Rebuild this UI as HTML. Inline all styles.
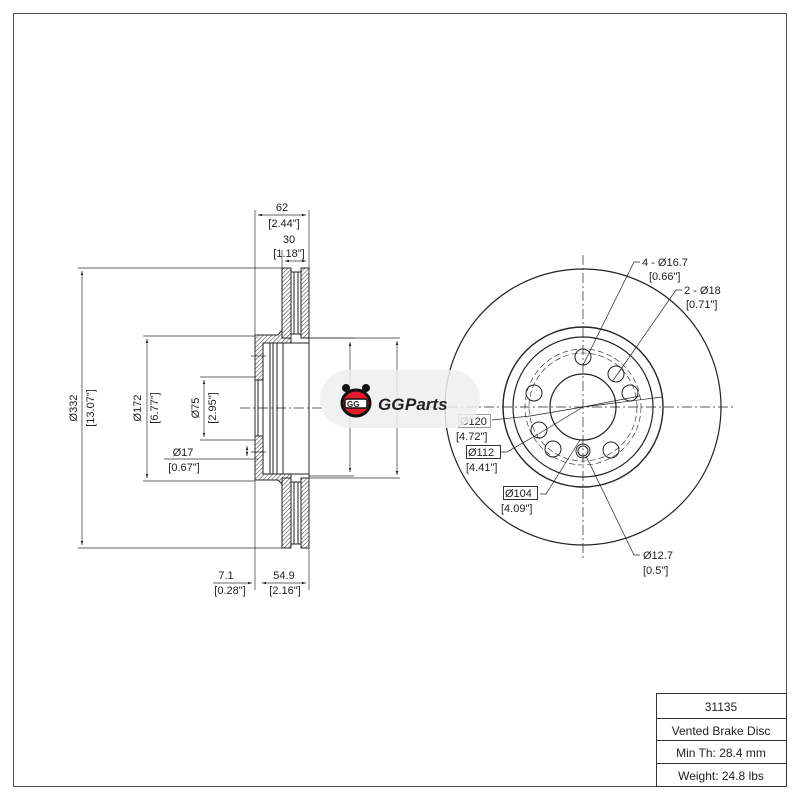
<!DOCTYPE html>
<html><head><meta charset="utf-8"><style>
html,body{margin:0;padding:0;background:#fff;width:800px;height:800px;overflow:hidden}
svg text{font-family:"Liberation Sans",sans-serif;fill:#222}
</style></head><body>
<svg width="800" height="800" viewBox="0 0 800 800" xmlns="http://www.w3.org/2000/svg">
<defs>
<pattern id="h" width="3" height="3" patternUnits="userSpaceOnUse" patternTransform="rotate(45)">
<rect width="3" height="3" fill="#fff"/><line x1="0" y1="0" x2="0" y2="3" stroke="#333" stroke-width="1"/>
</pattern>
<marker id="a" viewBox="0 0 10 10" refX="10" refY="5" markerWidth="6" markerHeight="6" orient="auto-start-reverse"><path d="M0,2 L10,5 L0,8z" fill="#222"/></marker>
</defs>
<rect x="13.5" y="13.5" width="773" height="773" fill="none" stroke="#555" stroke-width="1"/>

<!-- LEFT: section view -->
<g stroke="#222" stroke-width="1" fill="none">
<!-- plates -->
<rect x="282" y="268" width="9" height="70" fill="url(#h)"/>
<rect x="301" y="268" width="8" height="70" fill="url(#h)"/>
<rect x="282" y="478" width="9" height="70" fill="url(#h)"/>
<rect x="301" y="478" width="8" height="70" fill="url(#h)"/>
<line x1="291" y1="272" x2="301" y2="272"/><line x1="291" y1="334" x2="301" y2="334"/>
<line x1="291" y1="482" x2="301" y2="482"/><line x1="291" y1="544" x2="301" y2="544"/>
<line x1="294" y1="272" x2="294" y2="334"/><line x1="298" y1="272" x2="298" y2="334"/>
<line x1="294" y1="482" x2="294" y2="544"/><line x1="298" y1="482" x2="298" y2="544"/>
<!-- hat -->
<path d="M255,335 L278,335 L282,330 L282,338 L291,338 L291,343 L263,343 L263,380 L255,380 Z" fill="url(#h)"/>
<path d="M255,436 L263,436 L263,474 L291,474 L291,478 L282,478 L282,484 L278,480 L255,480 Z" fill="url(#h)"/>
<line x1="255" y1="380" x2="255" y2="436"/>
<line x1="258" y1="380" x2="258" y2="436"/>
<line x1="263" y1="343" x2="263" y2="474"/>
<line x1="270" y1="343" x2="270" y2="474"/>
<line x1="273" y1="343" x2="273" y2="474"/>
<line x1="277" y1="343" x2="277" y2="474"/>
<line x1="283" y1="343" x2="283" y2="474"/>
<line x1="309" y1="338" x2="309" y2="478"/>
<line x1="291" y1="343" x2="309" y2="343"/><line x1="291" y1="474" x2="309" y2="474"/>
<line x1="251" y1="356" x2="266" y2="356" stroke-width="0.7"/>
<line x1="251" y1="452" x2="266" y2="452" stroke-width="0.7"/>
<line x1="240" y1="408" x2="325" y2="408" stroke-dasharray="10,3,2,3" stroke-width="0.7"/>
</g>
<!-- dimension lines left -->
<g stroke="#333" stroke-width="0.7" fill="none">
<line x1="255" y1="210" x2="255" y2="590"/>
<line x1="309" y1="210" x2="309" y2="590"/>
<line x1="258" y1="215" x2="306" y2="215" marker-start="url(#a)" marker-end="url(#a)"/>
<line x1="282" y1="250" x2="282" y2="268"/>
<line x1="285" y1="261" x2="306" y2="261" marker-start="url(#a)" marker-end="url(#a)"/>
<line x1="78" y1="268" x2="282" y2="268"/>
<line x1="78" y1="548" x2="282" y2="548"/>
<line x1="82" y1="271" x2="82" y2="545" marker-start="url(#a)" marker-end="url(#a)"/>
<line x1="143" y1="336" x2="255" y2="336"/>
<line x1="143" y1="481" x2="255" y2="481"/>
<line x1="147" y1="339" x2="147" y2="478" marker-start="url(#a)" marker-end="url(#a)"/>
<line x1="200" y1="377" x2="255" y2="377"/>
<line x1="200" y1="440" x2="255" y2="440"/>
<line x1="204" y1="380" x2="204" y2="437" marker-start="url(#a)" marker-end="url(#a)"/>
<line x1="164" y1="459" x2="258" y2="459"/>
<line x1="247" y1="446" x2="247" y2="456" marker-start="url(#a)" marker-end="url(#a)"/>
<line x1="309" y1="338" x2="354" y2="338"/>
<line x1="309" y1="476" x2="354" y2="476"/>
<line x1="350" y1="342" x2="350" y2="472" marker-start="url(#a)" marker-end="url(#a)"/>
<line x1="309" y1="338" x2="400" y2="338"/>
<line x1="309" y1="478" x2="400" y2="478"/>
<line x1="397" y1="341" x2="397" y2="475" marker-start="url(#a)" marker-end="url(#a)"/>
<line x1="213" y1="583" x2="252" y2="583" marker-end="url(#a)"/>
<line x1="262" y1="583" x2="306" y2="583" marker-start="url(#a)" marker-end="url(#a)"/>
</g>
<g font-size="11">
<text x="282" y="211" text-anchor="middle">62</text>
<text x="284" y="227" text-anchor="middle">[2.44"]</text>
<text x="289" y="243" text-anchor="middle">30</text>
<text x="289" y="257" text-anchor="middle">[1.18"]</text>
<text transform="translate(77,408) rotate(-90)" text-anchor="middle">Ø332</text>
<text transform="translate(94,408) rotate(-90)" text-anchor="middle">[13.07"]</text>
<text transform="translate(141,408) rotate(-90)" text-anchor="middle">Ø172</text>
<text transform="translate(158,408) rotate(-90)" text-anchor="middle">[6.77"]</text>
<text transform="translate(199,408) rotate(-90)" text-anchor="middle">Ø75</text>
<text transform="translate(216,408) rotate(-90)" text-anchor="middle">[2.95"]</text>
<text x="183" y="456" text-anchor="middle">Ø17</text>
<text x="184" y="471" text-anchor="middle">[0.67"]</text>
<text x="226" y="579" text-anchor="middle">7.1</text>
<text x="230" y="594" text-anchor="middle">[0.28"]</text>
<text x="284" y="579" text-anchor="middle">54.9</text>
<text x="285" y="594" text-anchor="middle">[2.16"]</text>
</g>

<!-- RIGHT: face view -->
<g stroke="#222" fill="none">
<circle cx="583" cy="407" r="138" stroke-width="1.2"/>
<circle cx="583" cy="407" r="80" stroke-width="1.4"/>
<circle cx="583" cy="407" r="70" stroke-width="1.2"/>
<circle cx="583" cy="407" r="33" stroke-width="1.2"/>
<circle cx="583" cy="407" r="54" stroke-width="0.6" stroke-dasharray="6,3"/>
<circle cx="583" cy="407" r="58" stroke-width="0.6" stroke-dasharray="6,3"/>
<g stroke-width="1">
<circle cx="583" cy="357" r="8"/><circle cx="616" cy="374" r="8"/><circle cx="630" cy="393" r="8"/>
<circle cx="611" cy="450" r="8"/><circle cx="583" cy="451" r="7"/><circle cx="583" cy="451" r="5"/>
<circle cx="553" cy="449" r="8"/><circle cx="539" cy="430" r="8"/><circle cx="534" cy="393" r="8"/>
</g>
<line x1="583" y1="255" x2="583" y2="560" stroke-width="0.7" stroke-dasharray="10,3,2,3"/>
<line x1="430" y1="407" x2="735" y2="407" stroke-width="0.7" stroke-dasharray="10,3,2,3"/>
<g stroke-width="0.7">
<polyline points="640,262 634,262 583,365"/>
<polyline points="682,290 676,290 612,382"/>
<line x1="583" y1="407" x2="640" y2="396"/><line x1="583" y1="407" x2="662" y2="397"/>
<polyline points="492,420 530,416 583,407"/>
<polyline points="501,452 507,452 540,433 583,407"/>
<polyline points="540,494 546,494 580,440"/>
<polyline points="640,555 634,555 586,456"/>
</g>
</g>
<g font-size="11">
<text x="642" y="266">4 - Ø16.7</text>
<text x="649" y="280">[0.66"]</text>
<text x="684" y="294">2 - Ø18</text>
<text x="686" y="308">[0.71"]</text>
<rect x="458.5" y="414.5" width="32" height="13" fill="none" stroke="#999"/>
<text x="460" y="425" fill="#888">Ø120</text>
<text x="456" y="440">[4.72"]</text>
<rect x="466.5" y="445.5" width="34" height="13" fill="none" stroke="#333"/>
<text x="468" y="456">Ø112</text>
<text x="466" y="471">[4.41"]</text>
<rect x="503.5" y="486.5" width="34" height="13" fill="none" stroke="#333"/>
<text x="505" y="497">Ø104</text>
<text x="501" y="512">[4.09"]</text>
<text x="643" y="559">Ø12.7</text>
<text x="643" y="574">[0.5"]</text>
</g>

<!-- logo -->
<rect x="320" y="370" width="160" height="58" rx="29" fill="#eee" opacity="0.85"/>
<g>
<circle cx="346" cy="388" r="4" fill="#111"/><circle cx="366" cy="388" r="4" fill="#111"/>
<ellipse cx="356" cy="403" rx="14" ry="13" fill="#e31b2b" stroke="#111" stroke-width="3"/>
<rect x="345" y="399" width="22" height="9" rx="2" fill="#fff" stroke="#111" stroke-width="1.5"/>
<text x="347" y="407" font-size="8" font-weight="bold" fill="#111">GG</text>
</g>
<text x="378" y="410" font-size="17" font-weight="bold" font-style="italic" fill="#e31b2b">GG</text>
<text x="405" y="410" font-size="17" font-weight="bold" font-style="italic" fill="#111">Parts</text>

<!-- table -->
<g stroke="#333" stroke-width="1" fill="none">
<rect x="656.5" y="693.5" width="130" height="93"/>
<line x1="656" y1="718.5" x2="786" y2="718.5"/>
<line x1="656" y1="740.5" x2="786" y2="740.5"/>
<line x1="656" y1="763.5" x2="786" y2="763.5"/>
</g>
<g font-size="12" text-anchor="middle">
<text x="721" y="711">31135</text>
<text x="721" y="735">Vented Brake Disc</text>
<text x="721" y="757">Min Th: 28.4 mm</text>
<text x="721" y="780">Weight: 24.8 lbs</text>
</g>
</svg>
</body></html>
